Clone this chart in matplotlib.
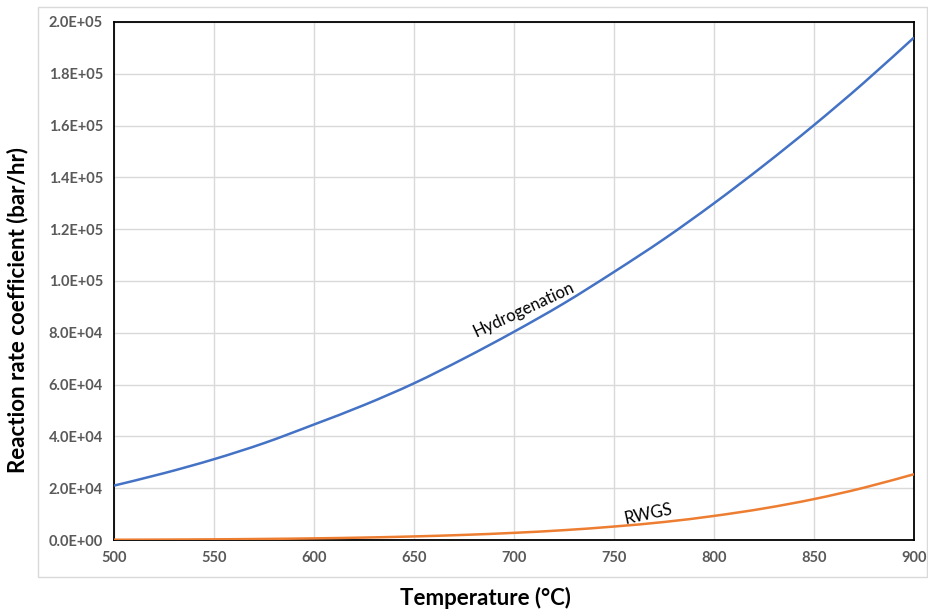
import matplotlib
matplotlib.use("Agg")
import matplotlib.pyplot as plt
from matplotlib.patches import Rectangle, PathPatch
from matplotlib.path import Path
from matplotlib.ticker import FuncFormatter

temperature = [500, 525, 550, 575, 600, 625, 650, 675, 700, 725, 750, 775, 800, 825, 850, 875, 900]
hydrogenation = [21000, 25800, 31200, 37400, 44600, 52100, 60500, 70100, 80400, 91400, 103500,
                 116200, 130000, 144700, 160200, 176600, 194000]
rwgs = [100, 160, 260, 410, 630, 940, 1380, 1970, 2760, 3800, 5200,
        6950, 9300, 12200, 15800, 20200, 25400]
x_ticks = [500, 550, 600, 650, 700, 750, 800, 850, 900]
y_ticks = [0, 20000, 40000, 60000, 80000, 100000, 120000, 140000, 160000, 180000, 200000]

plt.rcParams['font.family'] = ['Lato', 'DejaVu Sans']


def smooth_path(xs, ys):
    """Excel-style smoothed line: Catmull-Rom segments drawn as cubic Beziers."""
    verts = [(xs[0], ys[0])]
    codes = [Path.MOVETO]
    n = len(xs)
    for i in range(n - 1):
        x0, y0 = (xs[i - 1], ys[i - 1]) if i > 0 else (xs[i], ys[i])
        x1, y1 = xs[i], ys[i]
        x2, y2 = xs[i + 1], ys[i + 1]
        x3, y3 = (xs[i + 2], ys[i + 2]) if i + 2 < n else (xs[i + 1], ys[i + 1])
        c1 = (x1 + (x2 - x0) / 6, y1 + (y2 - y0) / 6)
        c2 = (x2 - (x3 - x1) / 6, y2 - (y3 - y1) / 6)
        verts += [c1, c2, (x2, y2)]
        codes += [Path.CURVE4] * 3
    return Path(verts, codes)


W, H = 929, 612
fig = plt.figure(figsize=(W / 100, H / 100), dpi=100)
fig.patch.set_facecolor('white')

# outer chart-area border
fig.add_artist(Rectangle((38 / W, 1 - 577 / H), (927 - 38) / W, (577 - 7) / H,
                         transform=fig.transFigure, fill=False, edgecolor='#d9d9d9', lw=1.0))

ax = fig.add_axes([114 / W, 1 - 540 / H, 800 / W, 518 / H])
for ys, col in [(hydrogenation, '#4472C4'), (rwgs, '#ED7D31')]:
    ax.add_patch(PathPatch(smooth_path(temperature, ys), facecolor='none', edgecolor=col,
                           lw=1.8, capstyle='butt', zorder=3, clip_on=True))

ax.set_xlim(500, 900)
ax.set_ylim(0, 200000)
ax.set_xticks(x_ticks)
ax.set_yticks(y_ticks)
ax.yaxis.set_major_formatter(FuncFormatter(lambda v, p: f"{v:.1E}"))
ax.grid(True, color='#d9d9d9', lw=1.0, zorder=0)
ax.set_axisbelow(True)
for s in ax.spines.values():
    s.set_color('black')
    s.set_linewidth(1.3)
ax.tick_params(length=0, pad=8, labelsize=10.5, labelcolor='#595959')
for lbl in ax.get_xticklabels() + ax.get_yticklabels():
    lbl.set_fontweight('bold')

ax.text(705, 88800, 'Hydrogenation', rotation=25, ha='center', va='center', fontsize=12,
        color='black', rotation_mode='anchor')
ax.text(767, 9900, 'RWGS', rotation=12, ha='center', va='center', fontsize=12,
        color='black', rotation_mode='anchor')

fig.text(18 / W, 1 - 310 / H, 'Reaction rate coefficient (bar/hr)', rotation=90,
         ha='center', va='center', fontsize=16, fontweight='bold')
fig.text(485 / W, 1 - 598 / H, 'Temperature (°C)', ha='center', va='center',
         fontsize=16, fontweight='bold')

fig.savefig('out.png', dpi=100)
